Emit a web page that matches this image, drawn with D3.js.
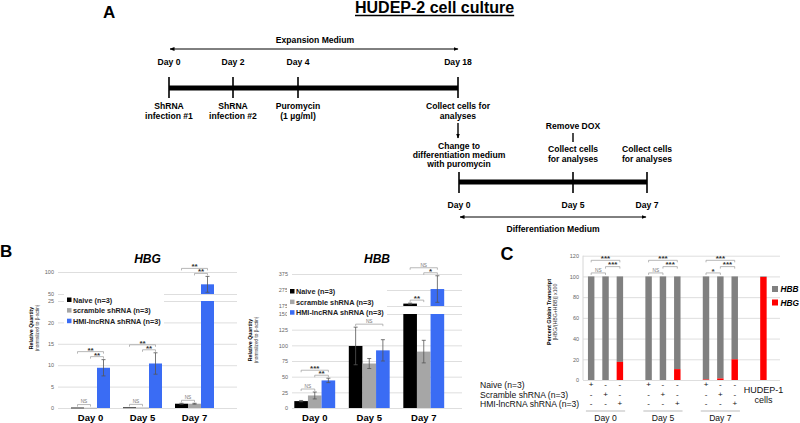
<!DOCTYPE html>
<html>
<head>
<meta charset="utf-8">
<script src="https://cdn.jsdelivr.net/npm/d3@7"></script>
<style>
body { margin: 0; background: #fff; }
svg { display: block; font-family: "Liberation Sans", Arial, Helvetica, sans-serif; }
</style>
</head>
<body>
<div id="fig"></div>
<script>
var svgWidth = 800;
var svgHeight = 423;

// ---------- panel A : culture timeline ----------
var expansionDays = [0, 2, 4, 18];
var expansionNotes = [["ShRNA", "infection #1"], ["ShRNA", "infection #2"], ["Puromycin", "(1 \u00b5g/ml)"], ["Collect cells for", "analyses"]];
var diffDays = [0, 5, 7];
var diffNotes = [["Change to", "differentiation medium", "with puromycin"], ["Collect cells", "for analyses"], ["Collect cells", "for analyses"]];

// ---------- panel B : relative quantity ----------
var days = ["Day 0", "Day 5", "Day 7"];
var treatments = ["Naive (n=3)", "scramble shRNA (n=3)", "HMI-lncRNA shRNA (n=3)"];

var hbgNaive = [0.1, 0.15, 1.0];
var hbgScramble = [0.05, 0.1, 1.0];
var hbgHmi = [9.4, 10.4, 72];
var hbgNaiveErr = [0, 0, 0.1];
var hbgScrambleErr = [0, 0, 0.1];
var hbgHmiErr = [1.9, 2.5, 18];
var hbgLowTicks = [0, 5, 10, 15, 20, 25];
var hbgHighTicks = [50, 100];
// [day, from treatment, to treatment, label, level]
var hbgBrackets = [[0, 0, 1, "NS", 0], [0, 1, 2, "**", 0], [0, 0, 2, "**", 1],
                   [1, 0, 1, "NS", 0], [1, 1, 2, "**", 0], [1, 0, 2, "**", 1],
                   [2, 0, 1, "NS", 0], [2, 1, 2, "**", 0], [2, 0, 2, "**", 1]];

var hbbNaive = [11, 99, 190];
var hbbScramble = [20, 71, 90];
var hbbHmi = [44, 92, 281];
var hbbNaiveErr = [1, 30, 3];
var hbbScrambleErr = [5.5, 8, 18];
var hbbHmiErr = [3.5, 17, 83];
var hbbLowTicks = [0, 25, 50, 75, 100, 125, 150];
var hbbHighTicks = [175, 275, 375];
var hbbBrackets = [[0, 0, 1, "NS", 0], [0, 1, 2, "**", 0], [0, 0, 2, "***", 1],
                   [1, 0, 2, "NS", 0],
                   [2, 0, 1, "**", 0], [2, 1, 2, "*", 0], [2, 0, 2, "NS", 1]];

// ---------- panel C : percent globin transcript ----------
var cSlots = ["D0-naive", "D0-scr", "D0-hmi", "gap1", "D5-naive", "D5-scr", "D5-hmi", "gap2", "D7-naive", "D7-scr", "D7-hmi", "gap3", "HUDEP-1"];
var cBars = ["D0-naive", "D0-scr", "D0-hmi", "D5-naive", "D5-scr", "D5-hmi", "D7-naive", "D7-scr", "D7-hmi", "HUDEP-1"];
var cBarTreatment = [0, 1, 2, 0, 1, 2, 0, 1, 2, -1];
var cHbg = [0, 0, 17.5, 0, 0, 10.5, 0.5, 1.5, 20, 99.5];
var cTicks = [0, 20, 40, 60, 80, 100, 120];
var cRowLabels = ["Naive (n=3)", "Scramble shRNA (n=3)", "HMI-lncRNA shRNA (n=3)"];
var cDayGroups = [["Day 0", "D0-naive", "D0-hmi"], ["Day 5", "D5-naive", "D5-hmi"], ["Day 7", "D7-naive", "D7-hmi"]];
var cBrackets = [["D0-naive", "D0-scr", "NS", 0], ["D0-scr", "D0-hmi", "***", 1], ["D0-naive", "D0-hmi", "***", 2],
                 ["D5-naive", "D5-scr", "NS", 0], ["D5-scr", "D5-hmi", "***", 1], ["D5-naive", "D5-hmi", "***", 2],
                 ["D7-naive", "D7-scr", "*", 0], ["D7-scr", "D7-hmi", "***", 1], ["D7-naive", "D7-hmi", "***", 2]];

var svg = d3.select("#fig")
	.append("svg")
	.attr("width", svgWidth)
	.attr("height", svgHeight);

svg.append("rect").attr("width", svgWidth).attr("height", svgHeight).attr("fill", "#fff");

var defs = svg.append("defs");
defs.append("marker")
	.attr("id", "arrow")
	.attr("viewBox", "0 0 10 10")
	.attr("refX", 9).attr("refY", 5)
	.attr("markerWidth", 5).attr("markerHeight", 5)
	.attr("markerUnits", "userSpaceOnUse")
	.attr("orient", "auto-start-reverse")
	.append("path").attr("d", "M0,1L10,5L0,9Z").attr("fill", "#000");

function addText(g, x, y, txt, size, opts) {
	opts = opts || {};
	return g.append("text")
		.attr("x", x).attr("y", y)
		.attr("font-size", size)
		.attr("font-weight", opts.weight || "bold")
		.attr("font-style", opts.style || "normal")
		.attr("text-anchor", opts.anchor || "middle")
		.attr("fill", opts.fill || "#000")
		.text(txt);
}

// ================= panel A =================
var panelA = svg.append("g");
addText(panelA, 103, 18, "A", 17, {anchor: "start"});
var title = addText(panelA, 355, 13, "HUDEP-2 cell culture", 16, {anchor: "start"});
var titleLen = title.node().getComputedTextLength();
panelA.append("line").attr("x1", 355).attr("x2", 355 + titleLen).attr("y1", 15.5).attr("y2", 15.5)
	.attr("stroke", "#000").attr("stroke-width", 1.4);

var xExp = d3.scaleLinear().domain(expansionDays).range([169, 233, 298, 458]);
addText(panelA, 315, 43, "Expansion Medium", 8.6);
panelA.append("line")
	.attr("x1", xExp(0) + 1).attr("x2", xExp(18)).attr("y1", 49).attr("y2", 49)
	.attr("stroke", "#000").attr("stroke-width", 1)
	.attr("marker-start", "url(#arrow)").attr("marker-end", "url(#arrow)");
panelA.append("line")
	.attr("x1", xExp(0)).attr("x2", xExp(18)).attr("y1", 88).attr("y2", 88)
	.attr("stroke", "#000").attr("stroke-width", 5);
expansionDays.forEach(function(d, i) {
	addText(panelA, xExp(d), 65, "Day " + d, 8.6);
	panelA.append("line").attr("x1", xExp(d)).attr("x2", xExp(d)).attr("y1", 77).attr("y2", 98)
		.attr("stroke", "#000").attr("stroke-width", 1.6);
	expansionNotes[i].forEach(function(t, k) {
		addText(panelA, xExp(d), 109 + k * 10, t, 8.6);
	});
});
panelA.append("line").attr("x1", xExp(18)).attr("x2", xExp(18)).attr("y1", 123).attr("y2", 138)
	.attr("stroke", "#000").attr("stroke-width", 1.4).attr("marker-end", "url(#arrow)");

var xDiff = d3.scaleLinear().domain(diffDays).range([459, 573, 647]);
addText(panelA, xDiff(5), 129, "Remove DOX", 8.6);
panelA.append("line").attr("x1", xDiff(5)).attr("x2", xDiff(5)).attr("y1", 133).attr("y2", 142)
	.attr("stroke", "#000").attr("stroke-width", 1.4);
diffDays.forEach(function(d, i) {
	var top = i === 0 ? 149 : 152;
	diffNotes[i].forEach(function(t, k) {
		addText(panelA, xDiff(d), top + k * (i === 0 ? 9 : 10), t, 8.6);
	});
	addText(panelA, xDiff(d), 208, "Day " + d, 8.6);
	panelA.append("line").attr("x1", xDiff(d)).attr("x2", xDiff(d)).attr("y1", 172).attr("y2", 193)
		.attr("stroke", "#000").attr("stroke-width", 1.6);
});
panelA.append("line")
	.attr("x1", xDiff(0)).attr("x2", xDiff(7)).attr("y1", 182).attr("y2", 182)
	.attr("stroke", "#000").attr("stroke-width", 5);
panelA.append("line")
	.attr("x1", xDiff(0) + 1).attr("x2", xDiff(7) - 1).attr("y1", 217).attr("y2", 217)
	.attr("stroke", "#000").attr("stroke-width", 1)
	.attr("marker-start", "url(#arrow)").attr("marker-end", "url(#arrow)");
addText(panelA, 553, 232, "Differentiation Medium", 8.6);

// ================= panel B =================
var treatColors = ["#000000", "#a6a6a6", "#3a6cf4"];

function relativePanel(cfg) {
	var g = svg.append("g");
	var x = d3.scaleBand().domain(days).range(cfg.xRange).paddingInner(0.25).paddingOuter(0.125);
	var xSub = d3.scaleBand().domain(d3.range(3)).range([0, x.bandwidth()]);
	var yLow = d3.scaleLinear().domain(d3.extent(cfg.lowTicks)).range(cfg.lowRange);
	var yHigh = d3.scaleLinear().domain(d3.extent(cfg.highTicks)).range(cfg.highRange);
	var lowMax = d3.max(cfg.lowTicks), highMin = d3.min(cfg.highTicks);
	function y(v) {
		if (v <= lowMax) return yLow(v);
		if (v >= highMin) return yHigh(v);
		return yLow(lowMax);
	}
	var gridW = cfg.gridX[1] - cfg.gridX[0];

	[[yLow, cfg.lowTicks], [yHigh, cfg.highTicks]].forEach(function(a) {
		var ax = g.append("g")
			.attr("transform", "translate(" + cfg.gridX[0] + ",0)")
			.call(d3.axisLeft(a[0]).tickValues(a[1]).tickSize(-gridW).tickPadding(4));
		ax.select(".domain").remove();
		ax.selectAll(".tick line").attr("stroke", "#d6d6d6").attr("stroke-width", 0.8);
		ax.selectAll(".tick text").attr("font-size", 5.5).attr("fill", "#666").attr("font-family", null);
	});

	// axis title
	var ty = cfg.titleY;
	g.append("text").attr("transform", "translate(" + cfg.titleX + "," + ty + ") rotate(-90)")
		.attr("text-anchor", "middle").attr("font-size", 5.2).attr("font-weight", "bold").text("Relative Quantity");
	g.append("text").attr("transform", "translate(" + (cfg.titleX + 5.5) + "," + ty + ") rotate(-90)")
		.attr("text-anchor", "middle").attr("font-size", 4.7).attr("fill", "#333").text("(normalized to \u03b2-actin)");

	addText(g, (cfg.gridX[0] + cfg.gridX[1]) / 2, 263, cfg.title, 12, {style: "italic"});

	// legend
	g.append("rect").attr("x", cfg.legend[0] - 3).attr("y", cfg.legend[1] - 6)
		.attr("width", 100).attr("height", 31).attr("fill", "#fff");
	treatments.forEach(function(t, j) {
		var ly = cfg.legend[1] + j * 10.6;
		g.append("rect").attr("x", cfg.legend[0]).attr("y", ly - 2.5).attr("width", 4.5).attr("height", 4.5)
			.attr("fill", treatColors[j]);
		addText(g, cfg.legend[0] + 6, ly + 2.5, t, 7.3, {anchor: "start", fill: "#222"});
	});

	var rows = [];
	days.forEach(function(d, i) {
		cfg.values.forEach(function(vals, j) {
			rows.push({day: d, i: i, j: j, v: vals[i], e: cfg.errs[j][i]});
		});
	});

	var bars = g.append("g");
	rows.forEach(function(r) {
		var bx = x(r.day) + xSub(r.j);
		var segs = r.v <= lowMax ? [[0, r.v]] : [[0, lowMax], [highMin, r.v]];
		segs.forEach(function(s) {
			bars.append("rect")
				.attr("x", bx).attr("width", xSub.bandwidth())
				.attr("y", y(s[1])).attr("height", Math.max(0.8, y(s[0]) - y(s[1])))
				.attr("fill", treatColors[r.j]);
		});
	});

	var errs = g.append("g").attr("stroke", "#555").attr("stroke-width", 0.8);
	rows.filter(function(r) { return r.e > 0; }).forEach(function(r) {
		var cx = x(r.day) + xSub(r.j) + xSub.bandwidth() / 2;
		var y1 = y(r.v - r.e), y2 = y(r.v + r.e);
		errs.append("line").attr("x1", cx).attr("x2", cx).attr("y1", y1).attr("y2", y2);
		[y1, y2].forEach(function(yy) {
			errs.append("line").attr("x1", cx - 2).attr("x2", cx + 2).attr("y1", yy).attr("y2", yy);
		});
	});

	cfg.brackets.forEach(function(b) {
		var d = days[b[0]];
		var xa = x(d) + xSub(b[1]) + xSub.bandwidth() / 2;
		var xb = x(d) + xSub(b[2]) + xSub.bandwidth() / 2;
		var top = d3.min(d3.range(b[1], b[2] + 1), function(j) {
			return y(cfg.values[j][b[0]] + cfg.errs[j][b[0]]);
		});
		var ly = top - 3 - b[4] * 5;
		g.append("path")
			.attr("d", "M" + xa + "," + (ly + 2) + "V" + ly + "H" + xb + "V" + (ly + 2))
			.attr("fill", "none").attr("stroke", "#999").attr("stroke-width", 0.7);
		if (b[3] === "NS") {
			addText(g, (xa + xb) / 2, ly - 1.2, "NS", 4.8, {weight: "normal", fill: "#777"});
		} else {
			addText(g, (xa + xb) / 2, ly + 1, b[3], 8, {fill: "#333"});
		}
	});

	days.forEach(function(d) {
		addText(g, x(d) + x.bandwidth() / 2, 421, d, 9.5);
	});
}

addText(svg, 0, 257, "B", 17, {anchor: "start"});

relativePanel({
	title: "HBG",
	xRange: [64.5, 220.5],
	gridX: [58, 237],
	lowTicks: hbgLowTicks, lowRange: [408, 301],
	highTicks: hbgHighTicks, highRange: [294, 272],
	values: [hbgNaive, hbgScramble, hbgHmi],
	errs: [hbgNaiveErr, hbgScrambleErr, hbgHmiErr],
	brackets: hbgBrackets,
	legend: [67, 300],
	titleX: 33, titleY: 328
});

relativePanel({
	title: "HBB",
	xRange: [287.5, 451],
	gridX: [292, 462],
	lowTicks: hbbLowTicks, lowRange: [408, 314],
	highTicks: hbbHighTicks, highRange: [306, 274],
	values: [hbbNaive, hbbScramble, hbbHmi],
	errs: [hbbNaiveErr, hbbScrambleErr, hbbHmiErr],
	brackets: hbbBrackets,
	legend: [290, 291.5],
	titleX: 252, titleY: 340
});

// ================= panel C =================
var panelC = svg.append("g");
addText(panelC, 507, 260, "C", 18);

var xC = d3.scaleBand().domain(cSlots).range([584, 770.6]).paddingInner(0.55).paddingOuter(0.275);
var yC = d3.scaleLinear().domain(d3.extent(cTicks)).range([380, 255.7]);

var axC = panelC.append("g")
	.attr("transform", "translate(583,0)")
	.call(d3.axisLeft(yC).tickValues(cTicks).tickSize(-(780 - 583)).tickPadding(4));
axC.select(".domain").attr("stroke", "#ccc").attr("stroke-width", 0.8).attr("d", "M0,255.7V380");
axC.selectAll(".tick line").attr("stroke", "#d6d6d6").attr("stroke-width", 0.8);
axC.selectAll(".tick text").attr("font-size", 5.5).attr("fill", "#666").attr("font-family", null);

panelC.append("text").attr("transform", "translate(551,312) rotate(-90)")
	.attr("text-anchor", "middle").attr("font-size", 5.4).attr("font-weight", "bold").text("Percent Globin Transcript");
panelC.append("text").attr("transform", "translate(556.5,312) rotate(-90)")
	.attr("text-anchor", "middle").attr("font-size", 5.2).attr("fill", "#333").text("[HBG/(HBG+HBB)] x100");

var cData = cBars.map(function(k, i) { return {key: k, hbg: cHbg[i], hbb: 100 - cHbg[i], tr: cBarTreatment[i]}; });

panelC.selectAll(".hbbBar").data(cData).enter().append("rect")
	.attr("x", d => xC(d.key)).attr("width", xC.bandwidth())
	.attr("y", d => yC(100)).attr("height", d => yC(d.hbg) - yC(100))
	.attr("fill", "#808080");
panelC.selectAll(".hbgBar").data(cData).enter().append("rect")
	.attr("x", d => xC(d.key)).attr("width", xC.bandwidth())
	.attr("y", d => yC(d.hbg)).attr("height", d => yC(0) - yC(d.hbg))
	.attr("fill", "#ff0000");

cBrackets.forEach(function(b) {
	var xa = xC(b[0]) + xC.bandwidth() / 2;
	var xb = xC(b[1]) + xC.bandwidth() / 2;
	var ly = yC(100) - 3.5 - b[3] * 6.3;
	panelC.append("path")
		.attr("d", "M" + xa + "," + (ly + 2) + "V" + ly + "H" + xb + "V" + (ly + 2))
		.attr("fill", "none").attr("stroke", "#999").attr("stroke-width", 0.7);
	if (b[2] === "NS") {
		addText(panelC, (xa + xb) / 2, ly - 1.2, "NS", 4.8, {weight: "normal", fill: "#777"});
	} else {
		addText(panelC, (xa + xb) / 2, ly + 0.8, b[2], 8, {fill: "#333"});
	}
});

// legend C
[["HBB", "#808080"], ["HBG", "#ff0000"]].forEach(function(l, i) {
	var ly = 289 + i * 13.5;
	panelC.append("rect").attr("x", 772).attr("y", ly - 3).attr("width", 6).attr("height", 6).attr("fill", l[1]);
	addText(panelC, 780.5, ly + 3.2, l[0], 8.3, {anchor: "start", style: "italic"});
});

// treatment sign table
cRowLabels.forEach(function(t, row) {
	var ry = 386 + row * 9.5;
	addText(panelC, 480, ry + 2, t, 8.6, {anchor: "start", weight: "normal", fill: "#111"});
	cData.filter(d => d.tr >= 0).forEach(function(d) {
		addText(panelC, xC(d.key) + xC.bandwidth() / 2, ry + 1, d.tr === row ? "+" : "-", 8, {weight: "normal", fill: "#111"});
	});
});
addText(panelC, xC("HUDEP-1") + xC.bandwidth() / 2, 393, "HUDEP-1", 9, {weight: "normal", fill: "#111"});
addText(panelC, xC("HUDEP-1") + xC.bandwidth() / 2, 403, "cells", 9, {weight: "normal", fill: "#111"});

cDayGroups.forEach(function(gr) {
	var x1 = xC(gr[1]) - 2, x2 = xC(gr[2]) + xC.bandwidth() + 2;
	panelC.append("line").attr("x1", x1).attr("x2", x2).attr("y1", 411).attr("y2", 411)
		.attr("stroke", "#aaa").attr("stroke-width", 0.8);
	addText(panelC, (x1 + x2) / 2, 421, gr[0], 8.6, {weight: "normal", fill: "#111"});
});
</script>
</body>
</html>
